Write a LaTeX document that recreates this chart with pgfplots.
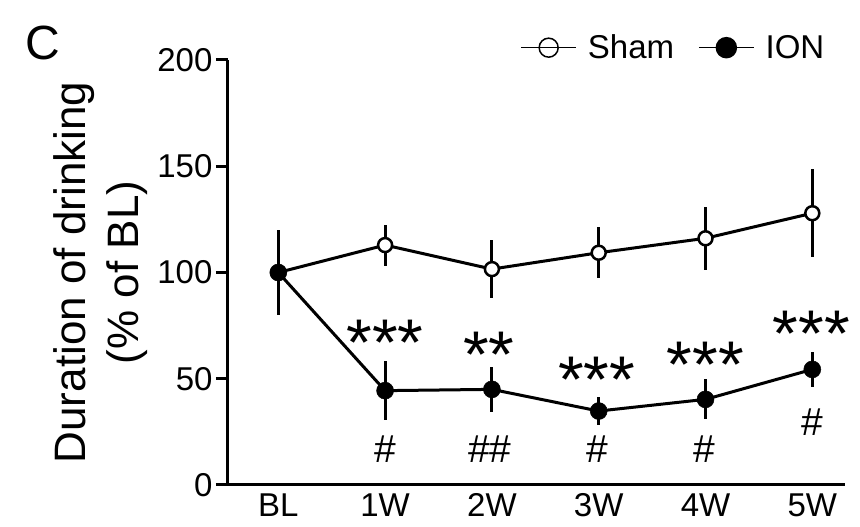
\documentclass[border=0pt]{standalone}
\usepackage{pgfplots}
\pgfplotsset{compat=1.18}
\usepackage{fontspec}
\setmainfont{Liberation Sans}

% x = week index (0 = BL), y = % of BL, e = error
\pgfplotstableread{
x y e
0 100 18
1 112.9 7.5
2 101.6 11.5
3 109.3 9.8
4 116.1 12.8
5 127.9 18.5
}\sham
\pgfplotstableread{
x y e
0 100 13
1 44.4 11.8
2 45 8.6
3 34.8 4.3
4 40.3 7.3
5 54.4 6.2
}\ion

\begin{document}
\begin{tikzpicture}
\path[use as bounding box] (-228pt,-42pt) rectangle (632pt,485pt);
\begin{axis}[
  scale only axis, width=617pt, height=425pt,
  xmin=-0.471, xmax=5.306, ymin=0, ymax=200,
  clip=false,
  axis x line*=bottom, axis y line*=left,
  axis line style={line width=3pt, -},
  ytick={0,50,100,150,200},
  xtick={0,...,5}, xticklabels={BL,1W,2W,3W,4W,5W},
  tick align=outside, major tick length=12pt,
  y tick style={line width=3pt, black},
  x tick style={draw=none},
  tick label style={font=\fontsize{33}{40}\selectfont},
  xticklabel style={yshift=7pt},
  /pgf/number format/assume math mode=true,
  ylabel={Duration of drinking\\(\% of BL)},
  ylabel style={align=center, font=\fontsize{44}{53}\selectfont,
    at={(axis description cs:-0.207,0.5)}, anchor=center},
  legend columns=2,
  legend style={draw=none, fill=none, at={(axis description cs:0.721,1.029)},
    anchor=center, font=\fontsize{33}{40}\selectfont,
    nodes={inner sep=1pt},
    /tikz/every odd column/.append style={column sep=10pt},
    /tikz/every even column/.append style={column sep=23pt}},
  legend image code/.code={\draw[mark repeat=2,mark phase=2,#1]
    plot coordinates {(0pt,0pt) (27.5pt,0pt) (55pt,0pt)};},
]
\addlegendimage{black, line width=1.5pt, mark=o, mark size=9.5pt, mark options={line width=1.5pt}}
\addlegendentry{Sham}
\addlegendimage{black, line width=1.5pt, mark=*, mark size=10pt}
\addlegendentry{ION}

% markers with error bars
\addplot[forget plot, black, only marks, mark=*, mark size=7pt,
  mark options={fill=white, line width=2.5pt},
  error bars/.cd, y dir=both, y explicit,
  error bar style={line width=3pt},
  error mark=|,
  error mark options={rotate=90, line width=3pt, mark size=4.5pt}]
  table[x=x, y=y, y error=e] {\sham};
\addplot[forget plot, black, only marks, mark=*, mark size=8.5pt,
  mark options={fill=black, line width=0.5pt},
  error bars/.cd, y dir=both, y explicit,
  error bar style={line width=3pt},
  error mark=|,
  error mark options={rotate=90, line width=3pt, mark size=4.5pt}]
  table[x=x, y=y, y error=e] {\ion};

% connecting lines on top
\addplot[forget plot, black, line width=3pt, no marks] table[x=x, y=y] {\sham};
\addplot[forget plot, black, line width=3pt, no marks] table[x=x, y=y] {\ion};

% significance marks
\addplot[forget plot, draw=none, mark=none, nodes near coords={***},
  every node near coord/.append style={anchor=base, inner sep=0pt, font=\fontsize{66}{66}\selectfont}]
  coordinates {(1,56) (2.98,38.6) (4,46.1) (4.99,60.7)};
\addplot[forget plot, draw=none, mark=none, nodes near coords={**},
  every node near coord/.append style={anchor=base, inner sep=0pt, font=\fontsize{66}{66}\selectfont}]
  coordinates {(1.97,50.4)};
\addplot[forget plot, draw=none, mark=none, nodes near coords={\#},
  every node near coord/.append style={anchor=base, inner sep=0pt, font=\fontsize{39}{44}\selectfont}]
  coordinates {(1,10.4) (2.99,10.4) (3.99,10.4) (5,23.5)};
\addplot[forget plot, draw=none, mark=none, nodes near coords={\#\#},
  every node near coord/.append style={anchor=base, inner sep=0pt, font=\fontsize{39}{44}\selectfont}]
  coordinates {(1.98,10.4)};
\end{axis}
\node[anchor=base west, inner sep=0pt, font=\fontsize{48}{52}\selectfont] at (-203pt,425pt) {C};
\end{tikzpicture}
\end{document}
